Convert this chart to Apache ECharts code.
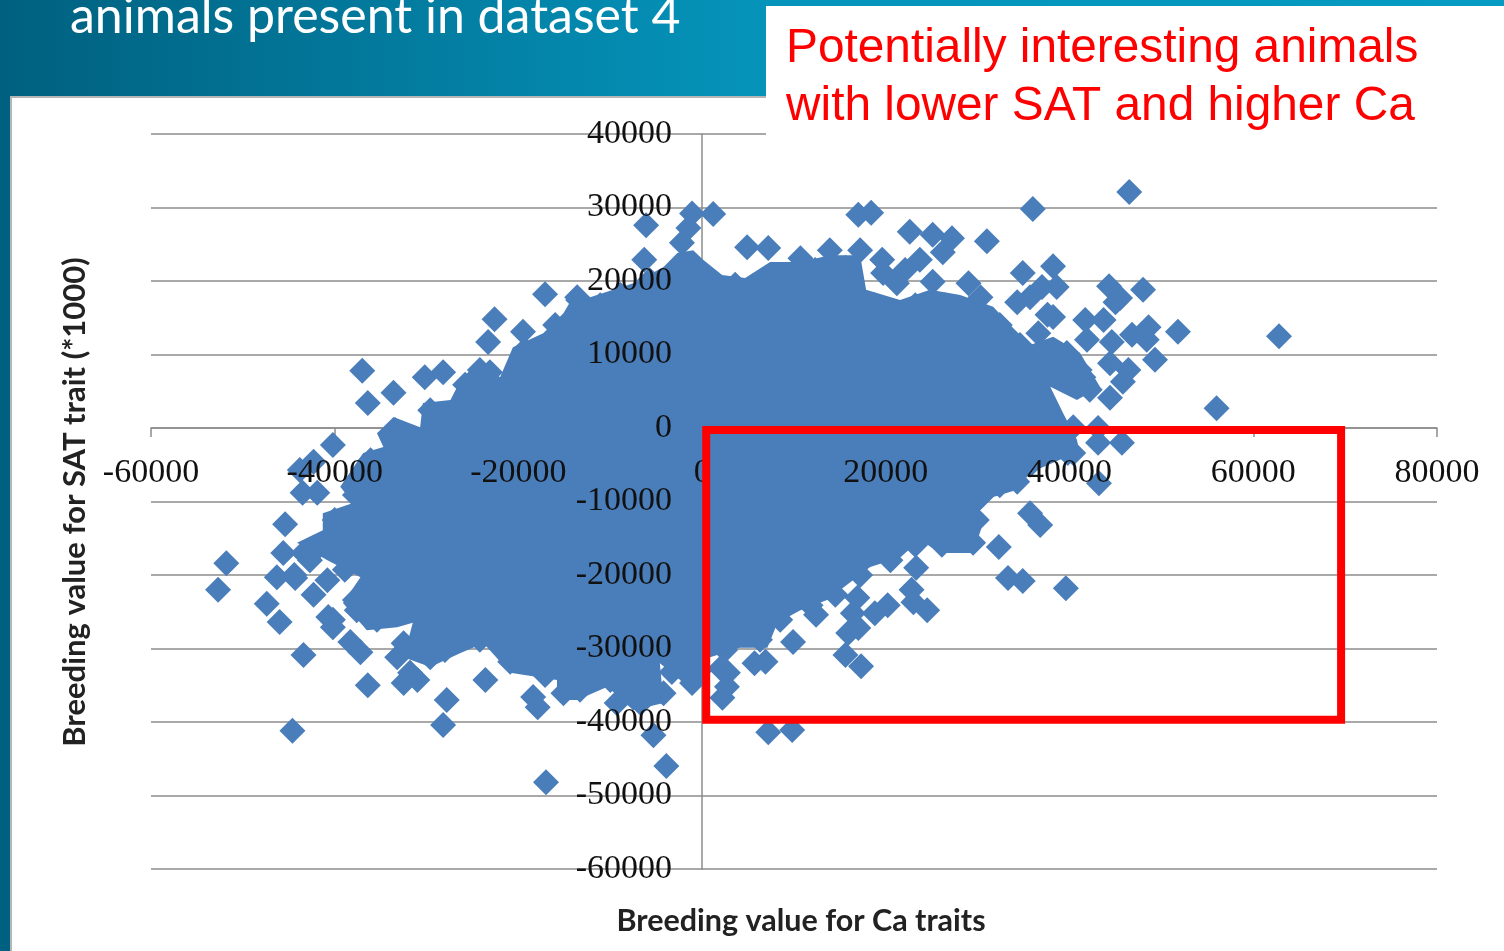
<!DOCTYPE html>
<html>
<head>
<meta charset="utf-8">
<title>Breeding value scatter</title>
<script src="https://cdn.jsdelivr.net/npm/echarts@6/dist/echarts.min.js"></script>
<style>
  html, body { margin: 0; padding: 0; background: #fff; }
  #main { width: 1504px; height: 951px; }
</style>
</head>
<body>
<div id="main"></div>
<script>
// values, [Ca, SAT]
var leftPoints = [
  [-52700,-22000],[-51800,-18400],[-47400,-23900],[-46000,-26400],[-46300,-20300],[-44400,-20000],
  [-45600,-17000],[-45400,-13100],[-43400,-30900],[-44600,-41200],[-42300,-22700],[-40800,-20700],
  [-37000,7800],[-36400,3400],[-33600,4800],[-30200,6900],[-28200,7600],[-40200,-2300],[-42300,-4600],
  [-43800,-5700],[-43500,-8800],[-41900,-8800],[-43400,-17000],[-42700,-18000],[-44300,-20400],
  [-37600,-23800],[-40200,-26100],[-40700,-25700],[-40200,-27100],[-38300,-29100],[-37200,-30500],
  [-37600,-24800],[-35400,-26100],[-36400,-35000],[-33200,-31200],[-32500,-29300],[-32500,-34700],
  [-31000,-34300],[-31800,-33300],[-29600,-31200],[-27800,-37000],[-28200,-40400]
];
var topPoints = [
  [-22600,14800],[-19500,13100],[-23300,11700],[-24200,7900],[-17100,18200],[-13600,17800],
  [-6100,27600],[-6300,22900],[-1100,29200],[1200,29100],[-1500,27200],[-2200,25200],[4900,24600],
  [7200,24500],[10700,23100],[13900,24200],[17200,24200],[17000,29000],[18400,29300],[19600,22900],
  [22600,26700],[25100,26300],[27200,25800],[26200,23900],[31000,25400],[23700,22900],[22100,21500],
  [25100,19900],[29000,19700],[30300,17800],[19700,21100],[21200,19700]
];
var rightPoints = [
  [46500,32100],[36000,29800],[34900,21100],[38200,22000],[38600,19200],[37000,19200],[35700,17800],
  [34300,17100],[44300,19300],[45500,17700],[45000,17100],[48000,18800],[37600,15400],[38200,15100],
  [36600,12900],[41700,14700],[43700,14700],[41900,12000],[44600,11700],[46800,12700],[48600,13700],
  [48400,12000],[51800,13100],[62800,12500],[49300,9300],[44400,8800],[46400,7900],[45800,6300],
  [39700,10200],[41500,6900],[42200,5200],[44400,4100],[56000,2700],[40400,100],[43100,0],[43100,-2000],
  [45700,-2000],[40400,-3400],[43200,-7500],[34300,-7300],[35700,-11600],[36800,-13200],[32300,-16200],
  [29500,-15600],[26100,-15900],[27800,-15000],[33300,-20400],[34900,-20800],[39600,-21800],
  [29900,-12500],[30300,-9400],[39800,-3400]
];
var bottomPoints = [
  [23300,-19000],[22800,-22000],[24500,-24800],[23000,-23700],[20200,-24100],[18800,-25200],[16900,-23100],
  [16400,-25200],[17000,-27200],[15900,-27900],[15600,-30900],[17300,-32400],[12400,-25400],[9900,-29100],
  [6900,-31800],[5700,-32000],[7200,-41400],[9800,-41100],[2800,-33300],[2200,-36700],[2700,-35200],
  [2000,-32700],[-1100,-34700],[-3900,-46000],[-17000,-48200],[-5300,-41800],[-4200,-36100],[-6700,-37400],
  [-9300,-37400],[-17900,-38000],[-18400,-36600],[-15100,-36100],[-23600,-34300]
];
// points along the rim of the solid part
var rimPoints = [
  [-11100,16700],[-8900,18100],[-5700,20100],[3600,19500],[9000,20800],[12300,21500],[15600,21800],[18800,16700],
  [23200,16700],[26500,16700],[29700,15400],[32400,14000],[34600,11300],[39000,9900],[41100,7900],[36800,3800],
  [37900,400],[39000,-2300],[35700,-5000],[32400,-7800],[29700,-9800],[28600,-13900],[23200,-15900],[20500,-18000],
  [17200,-20000],[14500,-22700],[11800,-24100],[8500,-26100],[6300,-28800],[2500,-30200],[-200,-32900],[-3300,-33200],
  [-6700,-36300],[-10000,-34300],[-13300,-35600],[-17100,-33600],[-20900,-31800],[-24200,-28800],[-28000,-30200],
  [-31200,-29500],[-34500,-25400],[-37800,-23400],[-38900,-19300],[-42100,-16600],[-40000,-12500],[-37800,-9100],
  [-36100,-4400],[-33400,-300],[-29600,2400],[-25800,5900],[-23100,7600],[-19300,10600],[-16000,14000],[-13500,17400]
];
// outline of the solid part, too dense to read single points
var massOutline = [
  [-980,24200],[110,22900],[2180,20800],[4680,20400],[7400,22600],[10670,22600],[13930,23500],[17200,23500],
  [17850,18800],[21550,17400],[24820,18800],[28090,18100],[31680,16500],[33530,14000],[35700,11300],
  [38210,12400],[41150,10200],[43300,5600],[40800,3800],[37900,5600],[39300,2000],[40800,-1600],[41150,-3700],
  [39700,-3900],[35700,-6100],[34300,-8400],[31700,-9400],[29900,-11600],[30600,-12900],[29500,-17000],
  [25900,-17000],[23700,-15200],[21600,-17600],[18300,-18900],[13600,-23400],[10700,-24800],[8200,-26500],
  [7100,-29900],[4100,-29900],[870,-31200],[-200,-33900],[-1100,-36100],[-2400,-34300],[-4600,-32000],
  [-4200,-37400],[-7500,-38400],[-10300,-35200],[-13600,-37000],[-15800,-37000],[-15800,-34300],[-20900,-33300],
  [-23800,-29300],[-26300,-30600],[-29600,-32500],[-32500,-31200],[-31500,-26500],[-33200,-27100],[-36500,-27500],
  [-39100,-23800],[-37200,-20300],[-40800,-18000],[-44100,-15600],[-41300,-13900],[-41300,-11600],[-38000,-10200],
  [-39400,-8000],[-36900,-3400],[-34700,-2600],[-35400,-700],[-33600,1500],[-30700,100],[-30400,3400],[-27400,3800],
  [-26300,6500],[-24200,9300],[-22000,6900],[-20600,11000],[-17300,12900],[-15100,15600],[-13600,18800],[-12200,17800],
  [-7500,19700],[-4200,21900],[-2700,23800]
];
// red box, corners in data values
var boxCorners = [[440,-270],[69560,-39700]];

var chartDom = document.getElementById("main");
var myChart = echarts.init(chartDom);

var labelStyle = {
  color: "#111",
  fontFamily: "Liberation Serif",
  fontSize: 34,
  padding: [3, 0, 0, 0],
  formatter: function (value) {
    return String(value);
  },
};

var option = {
  animation: false,
  graphic: [
    {
      type: "rect",
      z: -10,
      shape: { x: 0, y: 0, width: 1504, height: 951 },
      style: {
        fill: new echarts.graphic.LinearGradient(0, 0, 1, 0, [
          { offset: 0, color: "#00607f" },
          { offset: 0.5, color: "#0593ba" },
          { offset: 1, color: "#059bc2" },
        ]),
      },
    },
    {
      type: "rect",
      z: -9,
      shape: { x: 11, y: 97, width: 1494, height: 855 },
      style: { fill: "#fff", stroke: "#b5b5b5", lineWidth: 2 },
    },
    {
      type: "rect",
      z: 30,
      shape: { x: 766, y: 6, width: 738, height: 129 },
      style: { fill: "#fff" },
    },
    {
      type: "text",
      z: 31,
      x: 70,
      y: 17,
      style: {
        text: "animals present in dataset 4",
        fill: "#fff",
        font: "50px Lato",
        verticalAlign: "middle",
      },
    },
    {
      type: "text",
      z: 31,
      x: 786,
      y: 49,
      style: {
        text: "Potentially interesting animals",
        fill: "#ff0000",
        font: "47.8px 'Liberation Sans'",
        verticalAlign: "middle",
      },
    },
    {
      type: "text",
      z: 31,
      x: 786,
      y: 107,
      style: {
        text: "with lower SAT and higher Ca",
        fill: "#ff0000",
        font: "47.8px 'Liberation Sans'",
        verticalAlign: "middle",
      },
    },
    {
      type: "text",
      z: 31,
      x: 801,
      y: 921,
      style: {
        text: "Breeding value for Ca traits",
        fill: "#222",
        font: "bold 30.5px Lato",
        align: "center",
        verticalAlign: "middle",
      },
    },
    {
      type: "text",
      z: 31,
      x: 75,
      y: 502,
      rotation: Math.PI / 2,
      style: {
        text: "Breeding value for SAT trait (*1000)",
        fill: "#222",
        font: "bold 31px Lato",
        align: "center",
        verticalAlign: "middle",
      },
    },
  ],
  grid: { left: 151, right: 67, top: 134, bottom: 82 },
  xAxis: [
    {
      type: "value",
      min: -60000,
      max: 80000,
      interval: 20000,
      z: 0,
      axisLine: { onZero: true, lineStyle: { color: "#8c8c8c", width: 1.5 } },
      axisTick: { show: true, length: 9, lineStyle: { color: "#8c8c8c", width: 1.5 } },
      axisLabel: { show: false },
      splitLine: { show: false },
    },
    {
      // labels sit above the points, so they need their own axis
      type: "value",
      min: -60000,
      max: 80000,
      interval: 20000,
      z: 10,
      position: "bottom",
      offset: -441,
      axisLine: { show: false, onZero: false },
      axisTick: { show: false },
      axisLabel: Object.assign({ show: true, margin: 25, hideOverlap: false }, labelStyle),
      splitLine: { show: false },
    },
  ],
  yAxis: [
    {
      type: "value",
      min: -60000,
      max: 40000,
      interval: 10000,
      z: 0,
      axisLine: { onZero: true, lineStyle: { color: "#8c8c8c", width: 1.5 } },
      axisTick: { show: false },
      axisLabel: { show: false },
      splitLine: { show: true, lineStyle: { color: "#8c8c8c", width: 1.5 } },
    },
    {
      type: "value",
      min: -60000,
      max: 40000,
      interval: 10000,
      z: 10,
      position: "left",
      offset: -551,
      axisLine: { show: false, onZero: false },
      axisTick: { show: false },
      axisLabel: Object.assign({ show: true, margin: 30 }, labelStyle),
      splitLine: { show: false },
    },
  ],
  series: [
    {
      type: "custom",
      z: 2,
      silent: true,
      clip: false,
      data: [0],
      renderItem: function (params, api) {
        return {
          type: "polygon",
          shape: {
            points: massOutline.map(function (p) {
              return api.coord(p);
            }),
          },
          style: { fill: "#4a7ebb" },
        };
      },
    },
    {
      type: "scatter",
      z: 3,
      symbol: "diamond",
      symbolSize: 26,
      silent: true,
      itemStyle: { color: "#4a7ebb", opacity: 1 },
      data: leftPoints.concat(topPoints, rightPoints, bottomPoints, rimPoints),
    },
    {
      type: "custom",
      z: 20,
      silent: true,
      clip: false,
      data: [0],
      renderItem: function (params, api) {
        var a = api.coord(boxCorners[0]);
        var b = api.coord(boxCorners[1]);
        return {
          type: "rect",
          shape: { x: a[0], y: a[1], width: b[0] - a[0], height: b[1] - a[1] },
          style: { fill: "none", stroke: "#ff0000", lineWidth: 8 },
        };
      },
    },
  ],
};
option && myChart.setOption(option);
</script>
</body>
</html>
